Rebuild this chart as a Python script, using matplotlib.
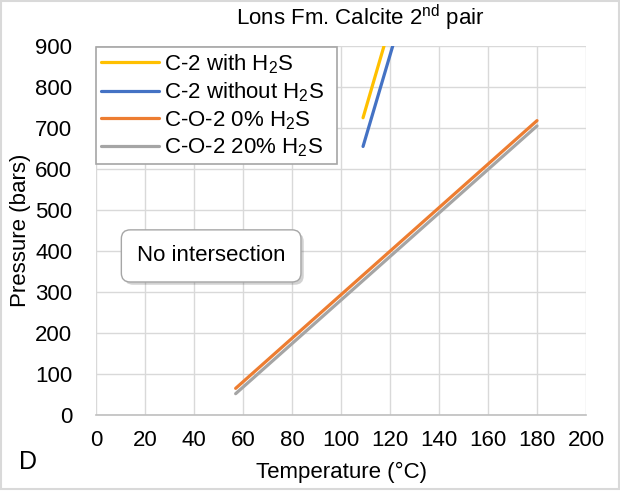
import matplotlib
matplotlib.use('Agg')
import matplotlib.pyplot as plt
import matplotlib.patheffects as pe
from matplotlib.patches import Rectangle

plt.rcParams['font.family'] = ['Liberation Sans', 'DejaVu Sans']
plt.rcParams['mathtext.fontset'] = 'custom'
plt.rcParams['mathtext.rm'] = 'Liberation Sans'
plt.rcParams['mathtext.it'] = 'Liberation Sans'

# C-2 curves (steep)
c2_h2s_t = [109, 120]
c2_h2s_p = [725, 950]
c2_noh2s_t = [109, 122.5]
c2_noh2s_p = [655, 928]
# C-O-2 curves
co2_0_t = [57, 180]
co2_0_p = [65, 718]
co2_20_t = [57, 180]
co2_20_p = [52, 705]

FS = 16

fig = plt.figure(figsize=(6.2, 4.95), dpi=100)
ax = fig.add_axes([96 / 620, 1 - 415 / 495, 490 / 620, 369 / 495])

ax.plot(c2_h2s_t, c2_h2s_p, color='#ffc000', lw=2.3, label='C-2 with H$_2$S', solid_capstyle='round')
ax.plot(c2_noh2s_t, c2_noh2s_p, color='#4472c4', lw=2.3, label='C-2 without H$_2$S', solid_capstyle='round')
ax.plot(co2_0_t, co2_0_p, color='#ed7d31', lw=2.3, label='C-O-2 0% H$_2$S', solid_capstyle='round', zorder=4)
ax.plot(co2_20_t, co2_20_p, color='#a5a5a5', lw=2.3, label='C-O-2 20% H$_2$S', solid_capstyle='round', zorder=3)

ax.set_xlim(0, 200)
ax.set_ylim(0, 900)
ax.set_xticks(range(0, 201, 20))
ax.set_yticks(range(0, 901, 100))
ax.grid(True, color='#d9d9d9', lw=1)
ax.set_axisbelow(True)
for s in ['top', 'right', 'left']:
    ax.spines[s].set_visible(False)
ax.spines['bottom'].set_color('#bfbfbf')
ax.spines['bottom'].set_linewidth(1.2)
ax.tick_params(length=0, labelsize=FS, colors='#000000')
ax.tick_params(axis='x', pad=11)
ax.tick_params(axis='y', pad=17)

fig.text(360 / 620, 1 - 18 / 495, 'Lons Fm. Calcite 2$^{\\mathrm{nd}}$ pair', fontsize=FS,
         ha='center', va='center')
ax.set_xlabel('Temperature (°C)', fontsize=FS)
ax.xaxis.set_label_coords(0.5, -(472 - 415) / 369)
ax.xaxis.label.set_va('center')
ax.set_ylabel('Pressure (bars)', fontsize=FS)
ax.yaxis.set_label_coords(-0.155, 0.5)
ax.yaxis.label.set_va('center')

leg = ax.legend(loc='upper left', bbox_to_anchor=(-0.002, 0.0, (338 - 95) / 490, 1.0), mode='expand',
                fontsize=FS, frameon=True, fancybox=False, edgecolor='#a6a6a6', framealpha=1,
                handlelength=2.6, handletextpad=0.25, borderpad=0.22, labelspacing=0.22,
                borderaxespad=0.05)
leg.get_frame().set_linewidth(1.2)

t = ax.text(47, 388, 'No intersection', fontsize=FS, ha='center', va='center',
            bbox=dict(boxstyle='round,pad=0.7,rounding_size=0.4', fc='white', ec='#a6a6a6', lw=1))
t.get_bbox_patch().set_path_effects([pe.SimplePatchShadow(offset=(2, -2), alpha=0.25),
                                     pe.Normal()])

fig.text(28 / 620, 1 - 462 / 495, 'D', fontsize=18, ha='center', va='center')
fig.patches.append(Rectangle((0.002, 0.012), 0.996, 0.986, transform=fig.transFigure,
                             fill=False, ec='#d9d9d9', lw=1.5))

fig.savefig('out.png', dpi=100)
